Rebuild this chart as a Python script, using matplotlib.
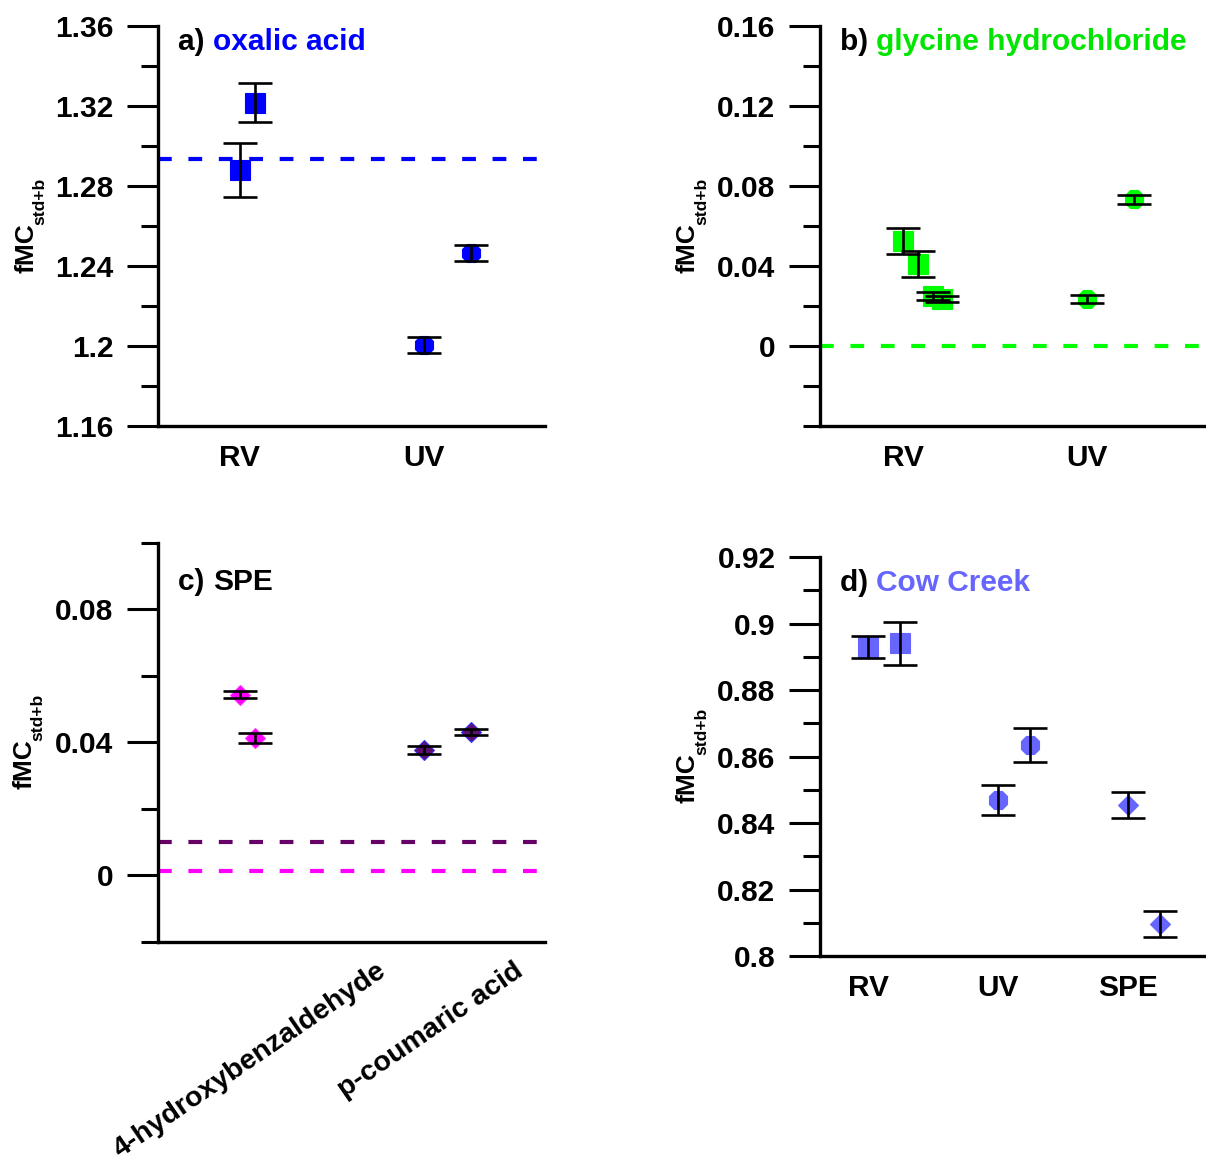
import numpy as np
import matplotlib.pyplot as plt
from matplotlib.ticker import FixedLocator, FixedFormatter, MultipleLocator, NullLocator

plt.rcParams['font.family'] = ['Liberation Sans', 'DejaVu Sans']
plt.rcParams['font.weight'] = 'bold'

# a) oxalic acid
a_cats = ['RV', 'UV']
a_group = [0, 0, 1, 1]
a_vals = [1.288, 1.3217, 1.2005, 1.2467]
a_err = [0.0133, 0.0098, 0.004, 0.004]
a_ref = 1.2933
a_yticks = [1.16, 1.2, 1.24, 1.28, 1.32, 1.36]
a_ylabels = ['1.16', '1.2', '1.24', '1.28', '1.32', '1.36']

# b) glycine hydrochloride
b_cats = ['RV', 'UV']
b_group = [0, 0, 0, 0, 1, 1]
b_vals = [0.0525, 0.041, 0.025, 0.0233, 0.0233, 0.0733]
b_err = [0.0065, 0.0066, 0.002, 0.0015, 0.002, 0.0022]
b_ref = 0.0
b_yticks = [0, 0.04, 0.08, 0.12, 0.16]
b_ylabels = ['0', '0.04', '0.08', '0.12', '0.16']

# c) SPE
c_cats = ['4-hydroxybenzaldehyde', 'p-coumaric acid']
c_group = [0, 0, 1, 1]
c_vals = [0.0544, 0.0412, 0.0377, 0.0432]
c_err = [0.0011, 0.0015, 0.0012, 0.001]
c_ref = [0.0013, 0.0102]
c_yticks = [0, 0.04, 0.08]
c_ylabels = ['0', '0.04', '0.08']

# d) Cow Creek
d_cats = ['RV', 'UV', 'SPE']
d_group = [0, 0, 1, 1, 2, 2]
d_vals = [0.893, 0.894, 0.8469, 0.8635, 0.8454, 0.8096]
d_err = [0.0033, 0.0064, 0.0045, 0.005, 0.004, 0.0039]
d_yticks = [0.8, 0.82, 0.84, 0.86, 0.88, 0.9, 0.92]
d_ylabels = ['0.8', '0.82', '0.84', '0.86', '0.88', '0.9', '0.92']

FS = 21.5


def style_axes(ax, yticks, ylabels, minor, ylim, xlim, labx=-0.31):
    for s in ['top', 'right']:
        ax.spines[s].set_visible(False)
    for s in ['left', 'bottom']:
        ax.spines[s].set_linewidth(2.4)
    ax.set_ylim(*ylim)
    ax.set_xlim(*xlim)
    ax.yaxis.set_major_locator(FixedLocator(yticks))
    ax.yaxis.set_major_formatter(FixedFormatter(ylabels))
    ax.yaxis.set_minor_locator(MultipleLocator(minor))
    ax.tick_params(axis='y', which='major', length=22, width=2.2, labelsize=FS, pad=10)
    ax.tick_params(axis='y', which='minor', length=12, width=2.2)
    ax.tick_params(axis='x', which='both', length=0, labelsize=FS, pad=13)
    ax.xaxis.set_minor_locator(NullLocator())
    # y label: fMC with a small subscript "std+b"
    lab = ax.set_ylabel('fMC', fontsize=19, fontweight='bold')
    ax.yaxis.set_label_coords(labx, 0.445)
    ax.annotate('std+b', xy=(1, 1), xycoords=lab, xytext=(7, -1),
                textcoords='offset points', rotation=90, ha='right', va='bottom',
                fontsize=12.5, fontweight='bold')


def panel_title(ax, tag, name, color, y):
    t = ax.text(0.052, y, tag + ' ', transform=ax.transAxes, fontsize=FS,
                fontweight='bold', va='center', ha='left')
    if name:
        ax.annotate(name, xy=(1, 0), xycoords=t, va='bottom', ha='left',
                    fontsize=FS, fontweight='bold', color=color)


def draw_points(ax, group, offsets, vals, err, markers, fc, ec, sizes):
    x = np.array(group) + 1 + np.array(offsets)
    for xi, yi, m, f, e, s in zip(x, vals, markers, fc, ec, sizes):
        ax.plot(xi, yi, marker=m, ms=s, mfc=f, mec=e, mew=0.8, ls='none', zorder=3)
    ax.errorbar(x, vals, yerr=err, fmt='none', ecolor='k', elinewidth=1.9,
                capsize=12, capthick=1.9, zorder=4)


fig = plt.figure(figsize=(12.06, 11.71), dpi=100)
ax_a = fig.add_axes([0.1310, 0.6362, 0.3209, 0.3416])
ax_b = fig.add_axes([0.6799, 0.6362, 0.3209, 0.3416])
ax_c = fig.add_axes([0.1310, 0.1956, 0.3209, 0.3407])
ax_d = fig.add_axes([0.6799, 0.1836, 0.3209, 0.3407])

dash = (0, (3.3, 4))

# a
style_axes(ax_a, a_yticks, a_ylabels, 0.02, (1.16, 1.36), (0.555, 2.66))
ax_a.set_xticks([1, 2], a_cats)
ax_a.axhline(a_ref, color='#0000FF', lw=3, ls=dash, zorder=2)
draw_points(ax_a, a_group, [0, 0.08, 0, 0.26], a_vals, a_err,
            ['s', 's', '8', '8'], ['#0000FF'] * 4, ['#0000FF'] * 4, [14.5, 14.5, 14, 14])
panel_title(ax_a, 'a)', 'oxalic acid', '#0000FF', 0.96)

# b
style_axes(ax_b, b_yticks, b_ylabels, 0.02, (-0.04, 0.16), (0.546, 2.656))
ax_b.set_xticks([1, 2], b_cats)
ax_b.axhline(b_ref, color='#00FF00', lw=3, ls=dash, zorder=2)
draw_points(ax_b, b_group, [0, 0.08, 0.16, 0.21, 0, 0.26], b_vals, b_err,
            ['s'] * 4 + ['8'] * 2, ['#00FF00'] * 6, ['#00FF00'] * 6, [15] * 4 + [14] * 2)
panel_title(ax_b, 'b)', 'glycine hydrochloride', '#00E600', 0.96)

# c
style_axes(ax_c, c_yticks, c_ylabels, 0.02, (-0.02, 0.1), (0.555, 2.66), labx=-0.315)
ax_c.set_xticks([1.78, 2.53], c_cats)
for lab in ax_c.get_xticklabels():
    lab.set_rotation(34.5)
    lab.set_rotation_mode('anchor')
    lab.set_ha('right')
    lab.set_va('center')
    lab.set_fontsize(20.5)
ax_c.tick_params(axis='x', pad=19)
ax_c.axhline(c_ref[1], color='#660066', lw=3, ls=dash, zorder=2)
ax_c.axhline(c_ref[0], color='#FF00FF', lw=3, ls=dash, zorder=2)
draw_points(ax_c, c_group, [0, 0.08, 0, 0.26], c_vals, c_err,
            ['D'] * 4, ['#FF00FF', '#FF00FF', '#5E1070', '#5E1070'],
            ['#FF33FF', '#FF33FF', '#3333FF', '#3333FF'], [10, 10, 10, 10])
panel_title(ax_c, 'c)', 'SPE', 'k', 0.902)

# d
style_axes(ax_d, d_yticks, d_ylabels, 0.01, (0.8, 0.92), (0.63, 3.61))
ax_d.set_xticks([1, 2, 3], d_cats)
draw_points(ax_d, d_group, [0, 0.25, 0, 0.25, 0, 0.25], d_vals, d_err,
            ['s', 's', '8', '8', 'D', 'D'], ['#6666FF'] * 6, ['#6666FF'] * 6,
            [14.5, 14.5, 14, 14, 10, 10])
panel_title(ax_d, 'd)', 'Cow Creek', '#6666FF', 0.935)

fig.savefig('out.png', dpi=100)
